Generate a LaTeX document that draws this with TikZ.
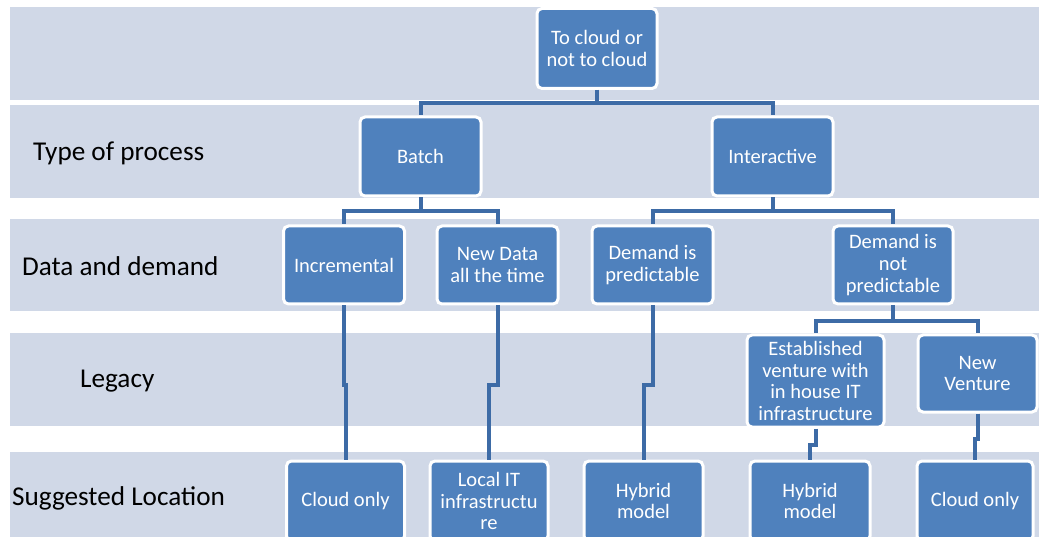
\documentclass[tikz,border=0pt]{standalone}
\usepackage{fontspec}
\setmainfont{Carlito}
\definecolor{band}{HTML}{D0D8E7}
\definecolor{boxfill}{HTML}{4F81BD}
\definecolor{link}{HTML}{3D6BA6}
\begin{document}
\begin{tikzpicture}[x=1pt,y=-1pt,
  box/.style={draw=white, line width=3pt, fill=boxfill, rounded corners=5pt,
    text=white, align=center, inner sep=0pt, font=\fontsize{20.5}{21.7}\selectfont},
  conn/.style={draw=link, line width=4pt},
  rowlabel/.style={anchor=west, text=black, inner sep=0pt, font=\fontsize{27.2}{29}\selectfont}]
\useasboundingbox (0,0) rectangle (1039,537);
\clip (0,0) rectangle (1039,537);
% horizontal bands for the five levels
\fill[band] (10,7)   rectangle (1039,100);
\fill[band] (10,105) rectangle (1039,198);
\fill[band] (10,219) rectangle (1039,311);
\fill[band] (10,333) rectangle (1039,426);
\fill[band] (10,452) rectangle (1039,537);
% level labels
\node[rowlabel] (l1) at (33,153) {Type of process};
\node[rowlabel] (l2) at (22,266) {Data and demand};
\node[rowlabel] (l3) at (80,381) {Legacy};
\node[rowlabel] (l4) at (12,498) {Suggested Location};
% decision boxes
\node[box, minimum width=120pt, minimum height=80pt] (root) at (597,48.5) {To cloud or\\not to cloud};
\node[box, minimum width=121pt, minimum height=79pt] (batch) at (420.5,156.5) {Batch};
\node[box, minimum width=121pt, minimum height=79pt] (inter) at (772.5,156.5) {Interactive};
\node[box, minimum width=121pt, minimum height=78pt] (incr) at (344,265) {Incremental};
\node[box, minimum width=121pt, minimum height=78pt] (newd) at (497.5,265) {New Data\\all the time};
\node[box, minimum width=121pt, minimum height=78pt] (dpred) at (652.5,265) {Demand is\\predictable};
\node[box, minimum width=120pt, minimum height=78pt] (dnot) at (893,265) {Demand is\\not\\predictable};
\node[box, minimum width=137pt, minimum height=92pt] (estab) at (815.5,381) {Established\\venture with\\in house IT\\infrastructure};
\node[box, minimum width=119pt, minimum height=77pt] (newv) at (977.5,373.5) {New\\Venture};
% outcome boxes (run past the lower edge)
\node[box, minimum width=118pt, minimum height=80pt] (cl1) at (345.5,501) {Cloud only};
\node[box, minimum width=118pt, minimum height=80pt] (loc) at (489,501) {Local IT\\infrastructu\\re};
\node[box, minimum width=119pt, minimum height=80pt] (hy1) at (643.5,501) {Hybrid\\model};
\node[box, minimum width=120pt, minimum height=80pt] (hy2) at (810,501) {Hybrid\\model};
\node[box, minimum width=116pt, minimum height=80pt] (cl2) at (975,501) {Cloud only};
% tree connectors
\draw[conn] (root.south) -- ++(0,13.5) -| (batch.north);
\draw[conn] (root.south) -- ++(0,13.5) -| (inter.north);
\draw[conn] (batch.south) -- ++(0,14) -| (incr.north);
\draw[conn] (batch.south) -- ++(0,14) -| (newd.north);
\draw[conn] (inter.south) -- ++(0,14) -| (dpred.north);
\draw[conn] (inter.south) -- ++(0,14) -| (dnot.north);
\draw[conn] (dnot.south) -- ++(0,16) -| (estab.north);
\draw[conn] (dnot.south) -- ++(0,16) -| (newv.north);
% elbow connectors down to the outcomes
\draw[conn] (incr.south) -- ++(0,79) -| (cl1.north);
\draw[conn] (newd.south) -- ++(0,79) -| (loc.north);
\draw[conn] (dpred.south) -- ++(0,79) -| (hy1.north);
\draw[conn] (estab.south) -- ++(0,16) -| (hy2.north);
\draw[conn] (newv.south) -- ++(0,25) -| (cl2.north);
\end{tikzpicture}
\end{document}
